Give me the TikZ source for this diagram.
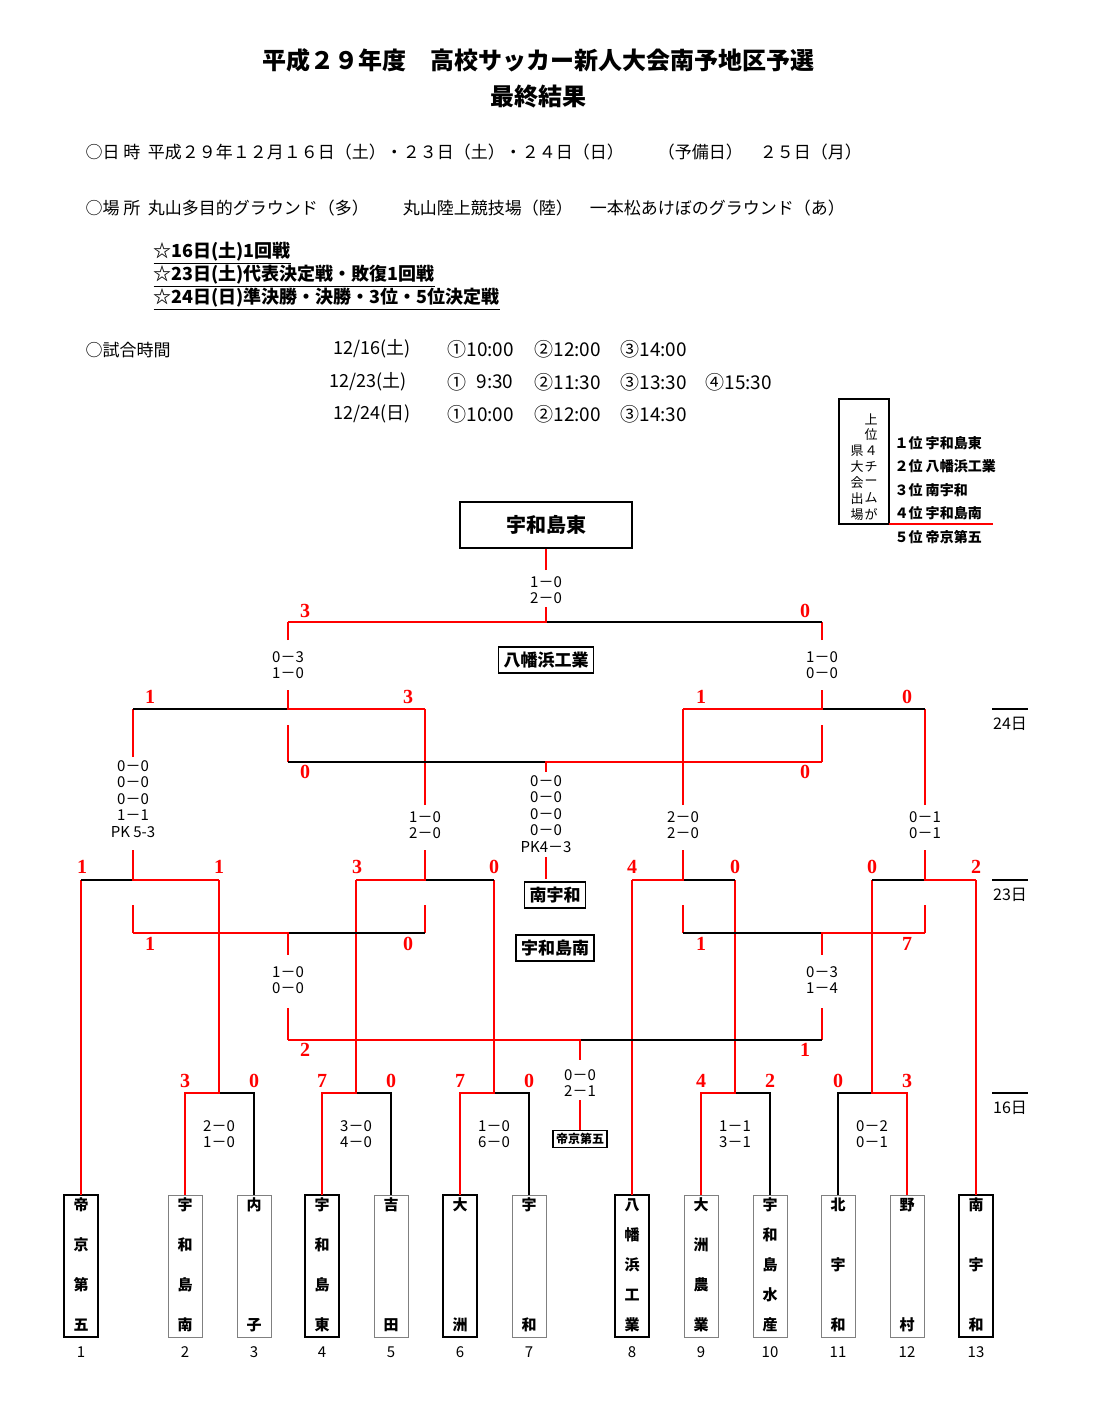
\documentclass[tikz,border=0pt]{standalone}
\usepackage{fontspec}
\setmainfont{Noto Sans CJK JP}
\newfontfamily\scorefont{Liberation Serif}
\tikzset{
  win/.style={red,line width=2.8pt},
  lose/.style={black,line width=1.3pt},
  pts/.style={text=red,font=\scorefont\fontsize{20}{20}\selectfont\bfseries},
  res/.style={align=center,font=\fontsize{15}{16.5}\selectfont},
  namebox/.style={draw,line width=1.6pt,font=\fontsize{17}{17}\selectfont\bfseries,inner sep=5pt},
  txt/.style={anchor=west,font=\fontsize{17}{17}\selectfont},
  star/.style={anchor=west,font=\fontsize{18}{18}\selectfont\bfseries},
}
% one team column at the bottom
\newcommand{\teamcol}[5]{%
  \draw[#5] (#1-17,1195) rectangle (#1+17,1337);
  \foreach \c [count=\i from 0] in {#3}
    \node[font=\fontsize{15}{15}\selectfont\bfseries] at (#1,{1205+\i*120/(#2-1)}) {\c};
  \node[font=\fontsize{15}{15}\selectfont] (n#4) at (#1,1352) {#4};
}
\begin{document}
\begin{tikzpicture}[x=1pt,y=-1pt]
\useasboundingbox (0,0) rectangle (1092,1421);

% header
\node[font=\fontsize{24}{24}\selectfont\bfseries] (title) at (538,60) {平成２９年度　高校サッカー新人大会南予地区予選};
\node[font=\fontsize{24}{24}\selectfont\bfseries] (sub) at (538,97) {最終結果};
\node[txt] (date) at (82,152) {○日\ 時\ \ 平成２９年１２月１６日（土）・２３日（土）・２４日（日）　　（予備日）　２５日（月）};
\node[txt] (place) at (82,208) {○場\ 所\ \ 丸山多目的グラウンド（多）　　丸山陸上競技場（陸）　一本松あけぼのグラウンド（あ）};
\node[star] (d1) at (150,253) {\underline{☆16日(土)1回戦}};
\node[star] (d2) at (150,276) {\underline{☆23日(土)代表決定戦・敗復1回戦}};
\node[star] (d3) at (150,299) {\underline{☆24日(日)準決勝・決勝・3位・5位決定戦}};
\node[txt] (jikan) at (82,350) {○試合時間};
\foreach \d/\x/\y in {{12/16(土)}/330/349,{12/23(土)}/326/382,{12/24(日)}/330/414}
  \node[txt,font=\fontsize{18}{18}\selectfont] at (\x,\y) {\d};
\foreach \t/\x/\y in {①10:00/444/349,②12:00/531/349,③14:00/617/349,
  ①/444/382,9:30/473/382,②11:30/531/382,③13:30/617/382,④15:30/702/382,
  ①10:00/444/414,②12:00/531/414,③14:30/617/414}
  \node[txt,font=\fontsize{19}{19}\selectfont] at (\x,\y) {\t};

% legend
\draw[line width=1.5pt] (839,399) rectangle (889,524);
\foreach \c [count=\i from 0] in {上,位,４,チ,ー,ム,が}
  \node[font=\fontsize{13}{13}\selectfont] at (871,{419+\i*15.8}) {\c};
\foreach \c [count=\i from 0] in {県,大,会,出,場}
  \node[font=\fontsize{13}{13}\selectfont] at (857,{451+\i*15.8}) {\c};
\foreach \t [count=\i from 0] in {１位 宇和島東,２位 八幡浜工業,３位 南宇和,４位 宇和島南,５位 帝京第五}
  \node[anchor=west,font=\fontsize{14}{14}\selectfont\bfseries] at (891,{443+\i*23.5}) {\t};
\draw[red,line width=1.4pt] (889,524) -- (993,524);

% day marks
\foreach \d/\y in {24日/709,23日/880,16日/1093}{
  \draw[line width=1.2pt] (992,\y) -- (1028,\y);
  \node[font=\fontsize{16}{16}\selectfont] at (1010,\y+15) {\d};
}

% teams
\teamcol{81}{4}{帝,京,第,五}{1}{line width=2pt}
\teamcol{185}{4}{宇,和,島,南}{2}{gray,line width=1pt}
\teamcol{254}{2}{内,子}{3}{gray,line width=1pt}
\teamcol{322}{4}{宇,和,島,東}{4}{line width=2pt}
\teamcol{391}{2}{吉,田}{5}{gray,line width=1pt}
\teamcol{460}{2}{大,洲}{6}{line width=2pt}
\teamcol{529}{2}{宇,和}{7}{gray,line width=1pt}
\teamcol{632}{5}{八,幡,浜,工,業}{8}{line width=2pt}
\teamcol{701}{4}{大,洲,農,業}{9}{gray,line width=1pt}
\teamcol{770}{5}{宇,和,島,水,産}{10}{gray,line width=1pt}
\teamcol{838}{3}{北,宇,和}{11}{gray,line width=1pt}
\teamcol{907}{2}{野,村}{12}{gray,line width=1pt}
\teamcol{976}{3}{南,宇,和}{13}{line width=2pt}

% 16日
\foreach \l/\r/\m/\w/\s in {185/254/219/185/{2－0\\1－0},322/391/356/322/{3－0\\4－0},460/529/494/460/{1－0\\6－0},701/770/735/701/{1－1\\3－1},838/907/872/907/{0－2\\0－1}}{
  \draw[lose] (\l,1195) -- (\l,1093) -- (\r,1093) -- (\r,1195);
  \draw[win] (\w,1195) -- (\w,1093) -- (\m,1093) -- (\m,880);
  \node[res] at (\m,1134) {\s};
}
\foreach \x in {81,632,976} \draw[win] (\x,1195) -- (\x,880);

% 23日 代表決定戦
\foreach \l/\r/\m/\w in {81/219/133/219,356/494/425/356,632/735/683/632,872/976/925/976}{
  \draw[lose] (\l,880) -- (\r,880);
  \draw[win] (\w,880) -- (\m,880) -- (\m,850);
  \draw[win] (\m,905) -- (\m,933);
}
\draw[win] (133,757) -- (133,709);
\foreach \m in {425,683,925} \draw[win] (\m,805) -- (\m,709);
\node[res] at (133,799) {0－0\\0－0\\0－0\\1－1\\PK 5-3};
\node[res] at (425,825) {1－0\\2－0};
\node[res] at (683,825) {2－0\\2－0};
\node[res] at (925,825) {0－1\\0－1};

% 敗復
\draw[lose] (133,933) -- (425,933);
\draw[win] (133,933) -- (288,933) -- (288,955);
\draw[win] (288,1008) -- (288,1040);
\node[res] at (288,980) {1－0\\0－0};
\draw[lose] (683,933) -- (925,933);
\draw[win] (925,933) -- (822,933) -- (822,955);
\draw[win] (822,1008) -- (822,1040);
\node[res] at (822,980) {0－3\\1－4};

% 5位決定戦
\draw[lose] (288,1040) -- (822,1040);
\draw[win] (288,1040) -- (580,1040) -- (580,1060);
\node[res] (r5) at (580,1083) {0－0\\2－1};
\node[namebox,font=\fontsize{12}{12}\selectfont\bfseries,inner sep=3pt,line width=1.4pt] (fifth) at (580,1139) {帝京第五};
\draw[win] (r5.south) -- (fifth.north);

% 24日 準決勝
\draw[lose] (133,709) -- (425,709);
\draw[win] (425,709) -- (288,709) -- (288,690);
\draw[win] (288,640) -- (288,622);
\draw[win] (288,725) -- (288,762);
\node[res] at (288,665) {0－3\\1－0};
\draw[lose] (683,709) -- (925,709);
\draw[win] (683,709) -- (822,709) -- (822,690);
\draw[win] (822,640) -- (822,622);
\draw[win] (822,725) -- (822,762);
\node[res] at (822,665) {1－0\\0－0};

% 3位決定戦
\draw[lose] (288,762) -- (822,762);
\draw[win] (822,762) -- (546,762) -- (546,772);
\node[res] (r3) at (546,814) {0－0\\0－0\\0－0\\0－0\\PK4－3};
\node[namebox] (third) at (555,895) {南宇和};
\node[namebox] (fourth) at (555,948) {宇和島南};
\draw[win] (546,857) -- (546,879);

% 決勝
\draw[lose] (288,622) -- (822,622);
\draw[win] (288,622) -- (546,622) -- (546,607);
\node[res] (rf) at (546,590) {1－0\\2－0};
\node[namebox,minimum width=172pt,minimum height=46pt,font=\fontsize{20}{20}\selectfont\bfseries] (champ) at (546,525) {宇和島東};
\draw[win] (546,570) -- (champ.south);
\node[namebox] (second) at (546,660) {八幡浜工業};

% red points
\foreach \t/\x/\y in {3/305/611,0/805/611,1/150/697,3/408/697,1/701/697,0/907/697,0/305/772,0/805/772,
  1/82/867,1/219/867,3/357/867,0/494/867,4/632/867,0/735/867,0/872/867,2/976/867,
  1/150/944,0/408/944,1/701/944,7/907/944,2/305/1050,1/805/1050,
  3/185/1081,0/254/1081,7/322/1081,0/391/1081,7/460/1081,0/529/1081,4/701/1081,2/770/1081,0/838/1081,3/907/1081}
  \node[pts] at (\x,\y) {\t};
\end{tikzpicture}
\end{document}
